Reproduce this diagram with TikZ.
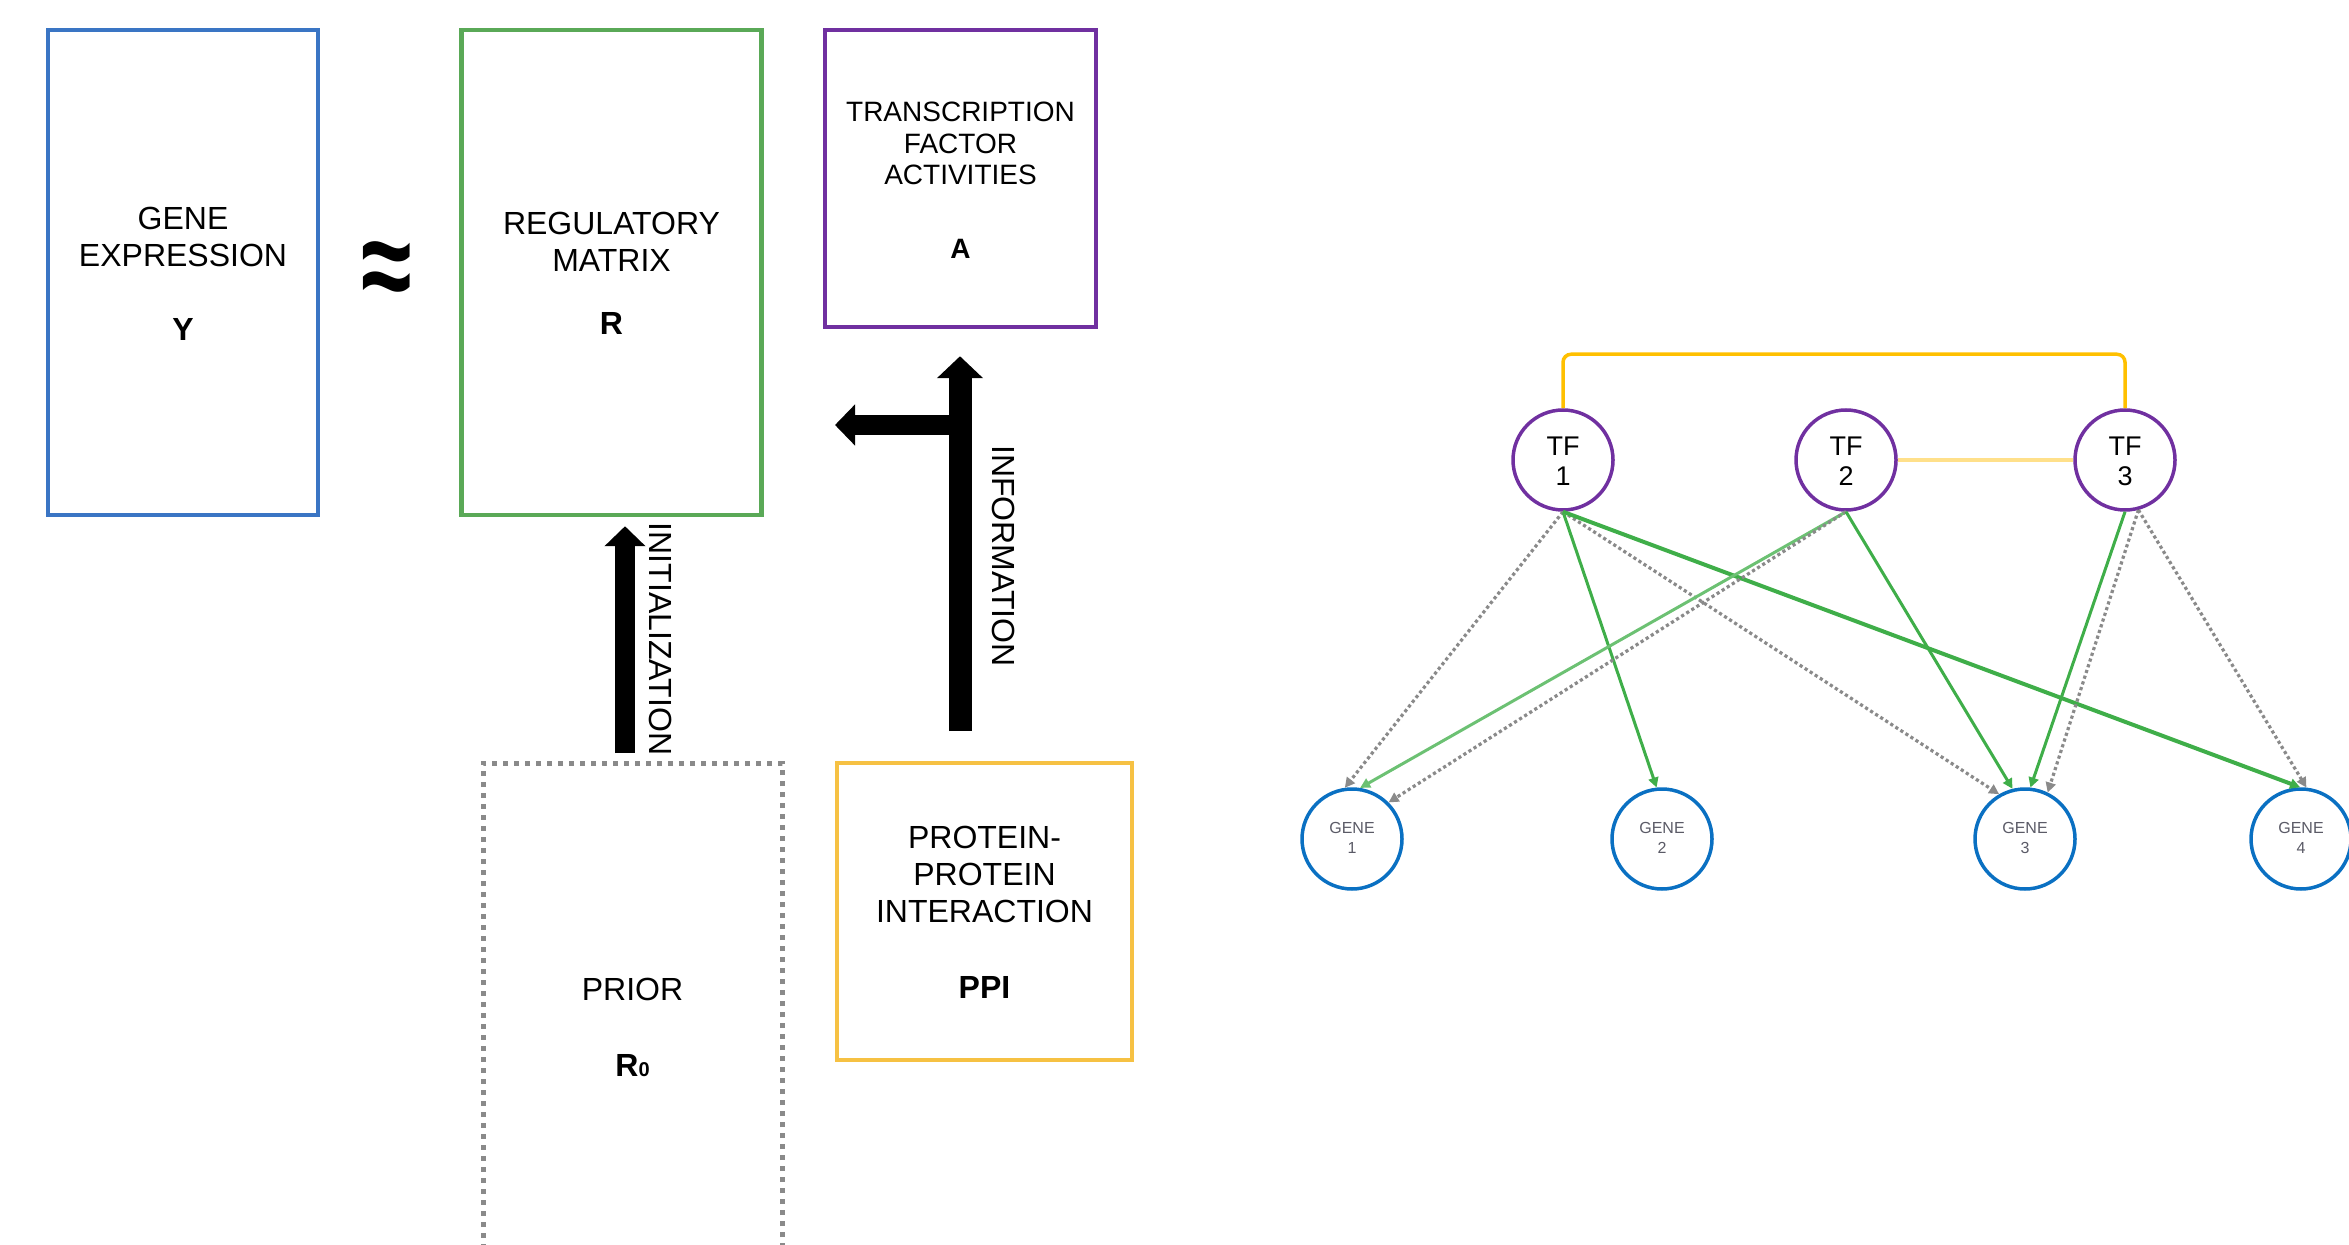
\documentclass[tikz,border=0pt]{standalone}
\usepackage{fontspec}
\setmainfont{Liberation Sans}
\usepackage{graphicx}
\usetikzlibrary{positioning,arrows.meta}

\begin{document}
\begin{tikzpicture}[x=0.5pt,y=-0.5pt]
       \definecolor{exprblue}{HTML}{3A75C4}
       \definecolor{regreen}{HTML}{5AA957}
       \definecolor{tfpurple}{HTML}{7030A0}
       \definecolor{ppiyellow}{HTML}{F6C143}
       \definecolor{priorgray}{HTML}{8A8A8A}
       \definecolor{geneblue}{HTML}{0A70C2}
       \definecolor{edgegreen}{HTML}{3FAE49}
       \definecolor{lightgreen}{HTML}{6CC173}
       \definecolor{bracketyellow}{HTML}{FFC000}
       \definecolor{paleyellow}{HTML}{FFE08A}
       \definecolor{genetext}{HTML}{5A5A66}
       \newcommand{\boxtext}[1]{\raisebox{-2.5pt}[\height][\depth]{\begin{tabular}{c}#1\end{tabular}}}
       \newcommand{\genename}[1]{\begin{tabular}{c}#1\end{tabular}}
       \newcommand{\boxfont}[0]{\fontsize{16}{18.5}\selectfont}
       \newcommand{\boxgap}[0]{69.5pt}
       \tikzstyle{block}      = [rectangle, line width=2.25pt, inner sep=0pt, font=\boxfont]
       \tikzstyle{fatarrow}   = [line width=10pt, -{Triangle[width=20pt,length=10pt]}]
       \tikzstyle{widearrow}  = [line width=11.5pt, -{Triangle[width=22.5pt,length=11pt]}]
       \tikzstyle{tfnode}     = [circle, draw=tfpurple, line width=1.75pt, minimum size=50pt, inner sep=0pt, font=\fontsize{13.5}{15}\selectfont]
       \tikzstyle{genenode}   = [circle, draw=geneblue, line width=1.75pt, minimum size=50pt, inner sep=0pt, text=genetext, font=\fontsize{8}{10}\selectfont]
       \tikzstyle{regedge}    = [draw=edgegreen, line width=1.5pt, -{Triangle[width=5pt,length=5pt]}]
       \tikzstyle{prioredge}  = [draw=priorgray, line width=1.6pt, dash pattern=on 1.6pt off 1.4pt, -{Triangle[width=5pt,length=5pt]}]
       \tikzstyle{ppiline}    = [draw=bracketyellow, line width=1.75pt]

       \useasboundingbox (0,0) rectangle (2349,1245);

       \node [block, draw=exprblue, minimum width=135pt, minimum height=242.5pt] (expr) at (183,272.5) {
         \boxtext{GENE\\EXPRESSION\\[18.5pt]\textbf{Y}}
       };
       \node [block, right = \boxgap of expr, draw=regreen, minimum width=150pt, minimum height=242.5pt] (regmat) {
         \boxtext{REGULATORY\\MATRIX\\[13pt]\textbf{R}}
       };
       \node [block, right = 29.5pt of regmat.north east, anchor=north west, draw=tfpurple, minimum width=135.5pt, minimum height=148.5pt, font=\fontsize{14}{15.75}\selectfont] (tfact) {
         \boxtext{TRANSCRIPTION\\FACTOR\\ACTIVITIES\\[21pt]\textbf{A}}
       };
       \node [font=\fontsize{46}{46}\selectfont\bfseries] (approx) at (387,276) {\scalebox{1}[1.4]{≈}};
       \node [block, draw=priorgray, line width=2.5pt, dash pattern=on 2.5pt off 3pt, minimum width=149.5pt, minimum height=263.5pt] (prior) at (632.5,1026.5) {
         \boxtext{PRIOR\\[19.5pt]\textbf{R{\fontsize{10}{10}\selectfont 0}}}
       };
       \node [block, draw=ppiyellow, minimum width=147.5pt, minimum height=148.5pt] (ppi) at (984.5,911.5) {
         \boxtext{PROTEIN-\\PROTEIN\\INTERACTION\\[19.5pt]\textbf{PPI}}
       };

       \coordinate (initfrom) at (625,753);
       \coordinate (infofrom) at (960,731);
       \coordinate (infobranch) at (960,425);
       \coordinate (infoleft) at (835,425);
       \draw [fatarrow] (initfrom) -- ([yshift=-4.5pt]initfrom |- regmat.south);
       \draw [widearrow] (infofrom) -- ([yshift=-13.5pt]infofrom |- tfact.south);
       \draw [fatarrow] (infobranch) -- (infoleft);
       \node [rotate=-90, font=\boxfont] (initlabel) at (661,639) {INITIALIZATION};
       \node [rotate=-90, font=\boxfont] (infolabel) at (1004,556) {INFORMATION};

       % network
       \node [tfnode] (tf1) at (1563,460) {\boxtext{TF\\1}};
       \node [tfnode] (tf2) at (1846,460) {\boxtext{TF\\2}};
       \node [tfnode] (tf3) at (2125,460) {\boxtext{TF\\3}};
       \node [genenode] (gene1) at (1352,839) {\genename{GENE\\1}};
       \node [genenode] (gene2) at (1662,839) {\genename{GENE\\2}};
       \node [genenode] (gene3) at (2025,839) {\genename{GENE\\3}};
       \node [genenode] (gene4) at (2301,839) {\genename{GENE\\4}};

       \draw [ppiline, rounded corners=4pt] (tf1.north) -- ++(0,-54) -| (tf3.north);
       \draw [ppiline, draw=paleyellow, line width=2pt] (tf2) -- (tf3);

       \draw [prioredge] (tf1.south) -- (gene1.98);
       \draw [regedge]   (tf1.south) -- (gene2.96);
       \draw [prioredge] (tf1.south) -- (gene3.120);
       \draw [regedge, line width=2pt] (tf1.south) -- (gene4.91);
       \draw [regedge, draw=lightgreen] (tf2.south) -- (gene1.81);
       \draw [prioredge] (tf2.south) -- (gene1.45);
       \draw [regedge]   (tf2.south) -- (gene3.104);
       \draw [regedge]   (tf3.south) -- (gene3.84);
       \draw [prioredge] (tf3.-75) -- (gene3.64);
       \draw [prioredge] (tf3.-75) -- (gene4.84);
\end{tikzpicture}
\end{document}
